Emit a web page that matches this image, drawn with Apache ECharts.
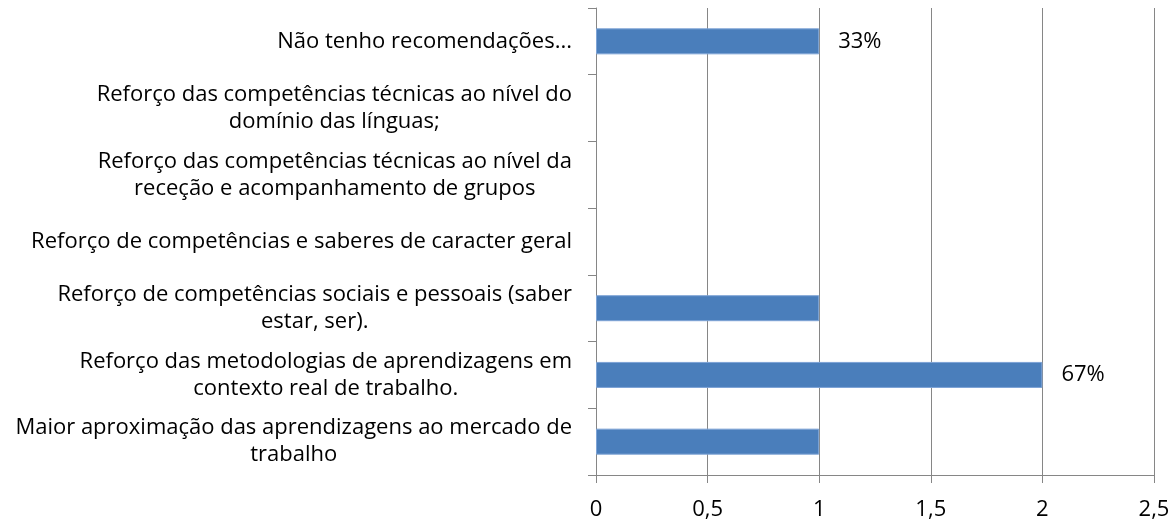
<!DOCTYPE html>
<html style="height: 100%">
<head>
    <meta charset="UTF-8">
    <script type="text/javascript" src="https://cdn.jsdelivr.net/npm/echarts@6/dist/echarts.min.js"></script>
    <style type="text/css">
        body {margin:0; padding:0; overflow:hidden; height:100%; background:#fff}
    </style>
</head>
<body>
    <div id="container" style="width:1174px;height:522px"></div>
<script>
    // categories, top to bottom
    var categories = [
        'Não tenho recomendações...',
        'Reforço das competências técnicas ao nível do\ndomínio das línguas;',
        'Reforço das competências técnicas ao nível da\nreceção e acompanhamento de grupos',
        'Reforço de competências e saberes de caracter geral',
        'Reforço de competências sociais e pessoais (saber\nestar, ser).',
        'Reforço das metodologias de aprendizagens em\ncontexto real de trabalho.',
        'Maior aproximação das aprendizagens ao mercado de\ntrabalho'
    ];
    var values = [1, 0, 0, 0, 1, 2, 1];
    var pctLabels = ['33%', '', '', '', '', '67%', ''];
    var xTicks = [0, 0.5, 1, 1.5, 2, 2.5];

    var font = 'Open Sans';
    var fs = 22;
    var myChart = echarts.init(document.getElementById('container'));

    var option = {
        animation: false,
        grid: {
            left: 596,
            right: 20,
            top: 8,
            bottom: 47,
            containLabel: false
        },
        xAxis: {
            type: 'value',
            min: xTicks[0],
            max: xTicks[xTicks.length - 1],
            interval: 0.5,
            axisLine: {show: true, lineStyle: {color: '#868686', width: 1}},
            axisTick: {show: true, length: 8, lineStyle: {color: '#868686'}},
            splitLine: {show: true, lineStyle: {color: '#868686', width: 1}},
            axisLabel: {
                margin: 24,
                color: '#000',
                fontFamily: font,
                fontSize: fs,
                formatter: function (v) { return String(v).replace('.', ','); }
            }
        },
        yAxis: {
            type: 'category',
            inverse: true,
            data: categories,
            axisLine: {show: true, lineStyle: {color: '#868686', width: 1}},
            axisTick: {show: true, length: 8, lineStyle: {color: '#868686'}},
            axisLabel: {
                margin: 24,
                align: 'right',
                lineHeight: 27,
                formatter: function (v) {
                    // centre each line inside the right-aligned block
                    return v.split('\n').map(function (s) { return '{c|' + s + '}'; }).join('\n');
                },
                rich: {
                    c: {align: 'center', color: '#000', fontFamily: font, fontSize: fs, lineHeight: 27}
                }
            }
        },
        series: [{
            type: 'bar',
            barWidth: 26,
            data: values.map(function (v, i) {
                return {
                    value: v,
                    itemStyle: v === 0 ? {borderWidth: 0, opacity: 0} : {},
                    label: {show: pctLabels[i] !== '', formatter: pctLabels[i]}
                };
            }),
            itemStyle: {color: '#4A7EBB', borderColor: '#7EA4D6', borderWidth: 1},
            label: {
                position: 'right',
                distance: 19,
                color: '#000',
                fontFamily: font,
                fontSize: fs
            }
        }]
    };
    myChart.setOption(option);
</script>
</body>
</html>
